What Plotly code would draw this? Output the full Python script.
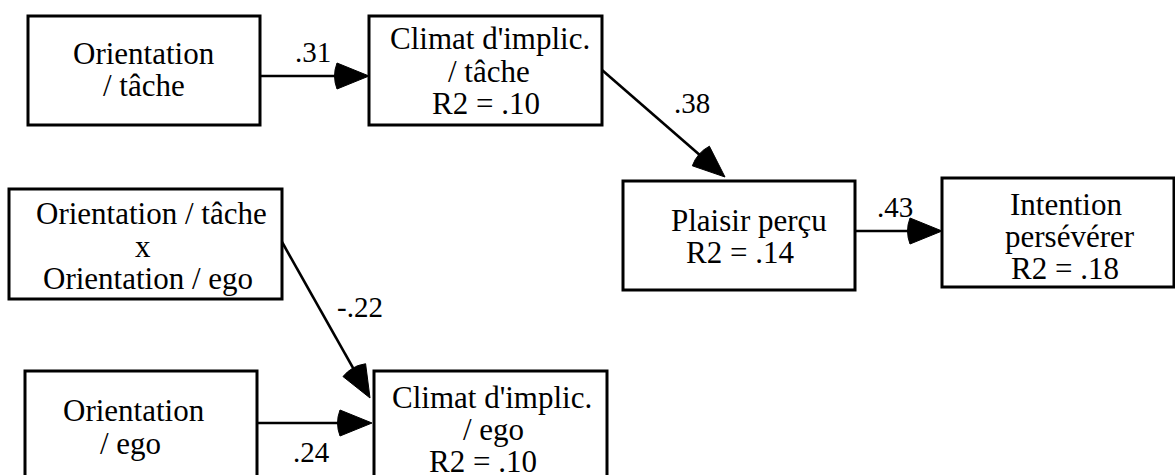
import math
import plotly.graph_objects as go

# ---- Data: node labels (lines) and path coefficients ----
node_ids = ["OT", "CT", "PP", "IP", "INT", "OE", "CE"]
node_lines = {
    "OT": ["Orientation", "/ tâche"],
    "CT": ["Climat d'implic.", "/ tâche", "R2 = .10"],
    "PP": ["Plaisir perçu", "R2 = .14"],
    "IP": ["Intention", "persévérer", "R2 = .18"],
    "INT": ["Orientation / tâche", "x", "Orientation / ego"],
    "OE": ["Orientation", "/ ego"],
    "CE": ["Climat d'implic.", "/ ego", "R2 = .10"],
}
edge_from = ["OT", "CT", "PP", "INT", "OE"]
edge_to = ["CT", "PP", "IP", "CE", "CE"]
edge_labels = [".31", ".38", ".43", "-.22", ".24"]

# ---- Layout (pixel positions of the diagram) ----
W, H = 1175, 475
box = {  # x0, y0, x1, y1
    "OT": (28, 16, 260, 125),
    "CT": (369, 16, 602, 125),
    "PP": (623, 181, 855, 290),
    "IP": (942, 178, 1174, 287),
    "INT": (9, 189, 282, 299),
    "OE": (25, 371, 257, 490),
    "CE": (374, 371, 607, 490),
}
line_y = {
    "OT": [53, 85],
    "CT": [38, 71, 103],
    "PP": [220, 252],
    "IP": [204, 236, 268],
    "INT": [213, 246, 278],
    "OE": [410, 443],
    "CE": [397, 429, 461],
}
line_x = {
    "OT": [144, 144],
    "CT": [490, 489, 486],
    "PP": [749, 740],
    "IP": [1066, 1070, 1065],
    "INT": [151, 143, 148],
    "OE": [134, 130],
    "CE": [492, 493, 483],
}
edge_start = [(260, 76), (602, 70), (855, 231), (282, 242), (257, 423)]
edge_end = [(369, 76), (725, 177), (942, 231), (370, 398), (372, 423)]
label_pos = [(313, 52), (692, 103), (895, 207), (360, 307), (311, 452)]

FONT = "Liberation Serif, Times New Roman, serif"

fig = go.Figure()
shapes = []
annotations = []

for nid in node_ids:
    x0, y0, x1, y1 = box[nid]
    shapes.append(dict(type="rect", xref="x", yref="y", x0=x0, y0=y0, x1=x1, y1=y1,
                       line=dict(color="black", width=3), fillcolor="white", layer="above"))
    for txt, tx, ty in zip(node_lines[nid], line_x[nid], line_y[nid]):
        annotations.append(dict(x=tx, y=ty, xref="x", yref="y", text=txt, showarrow=False,
                                xanchor="center", yanchor="middle",
                                font=dict(family=FONT, size=31, color="black")))

HEAD_L, HEAD_W = 32, 13
for (sx, sy), (ex, ey), lab, (lx, ly) in zip(edge_start, edge_end, edge_labels, label_pos):
    dx, dy = ex - sx, ey - sy
    d = math.hypot(dx, dy)
    ux, uy = dx / d, dy / d
    nx, ny = -uy, ux
    bx, by = ex - HEAD_L * ux, ey - HEAD_L * uy
    shapes.append(dict(type="line", xref="x", yref="y", x0=sx, y0=sy, x1=bx + 2 * ux, y1=by + 2 * uy,
                       line=dict(color="black", width=2.6), layer="above"))
    p1 = (bx + HEAD_W * nx, by + HEAD_W * ny)
    p2 = (bx - HEAD_W * nx, by - HEAD_W * ny)
    c = (bx - 5 * ux, by - 5 * uy)
    path = (f"M {ex},{ey} L {p1[0]:.2f},{p1[1]:.2f} Q {c[0]:.2f},{c[1]:.2f} "
            f"{p2[0]:.2f},{p2[1]:.2f} Z")
    shapes.append(dict(type="path", xref="x", yref="y", path=path,
                       fillcolor="black", line=dict(color="black", width=1), layer="above"))
    annotations.append(dict(x=lx, y=ly, xref="x", yref="y", text=lab, showarrow=False,
                            xanchor="center", yanchor="middle",
                            font=dict(family=FONT, size=29, color="black")))

fig.update_layout(
    width=W, height=H,
    margin=dict(l=0, r=0, t=0, b=0),
    paper_bgcolor="white", plot_bgcolor="white",
    xaxis=dict(range=[0, W], visible=False, fixedrange=True),
    yaxis=dict(range=[H, 0], visible=False, fixedrange=True),
    shapes=shapes, annotations=annotations,
    showlegend=False,
)

fig.write_html(
    "out.html",
    config={"displayModeBar": False},
    post_script="document.body.style.margin='0px';document.documentElement.style.overflow='hidden';",
)
